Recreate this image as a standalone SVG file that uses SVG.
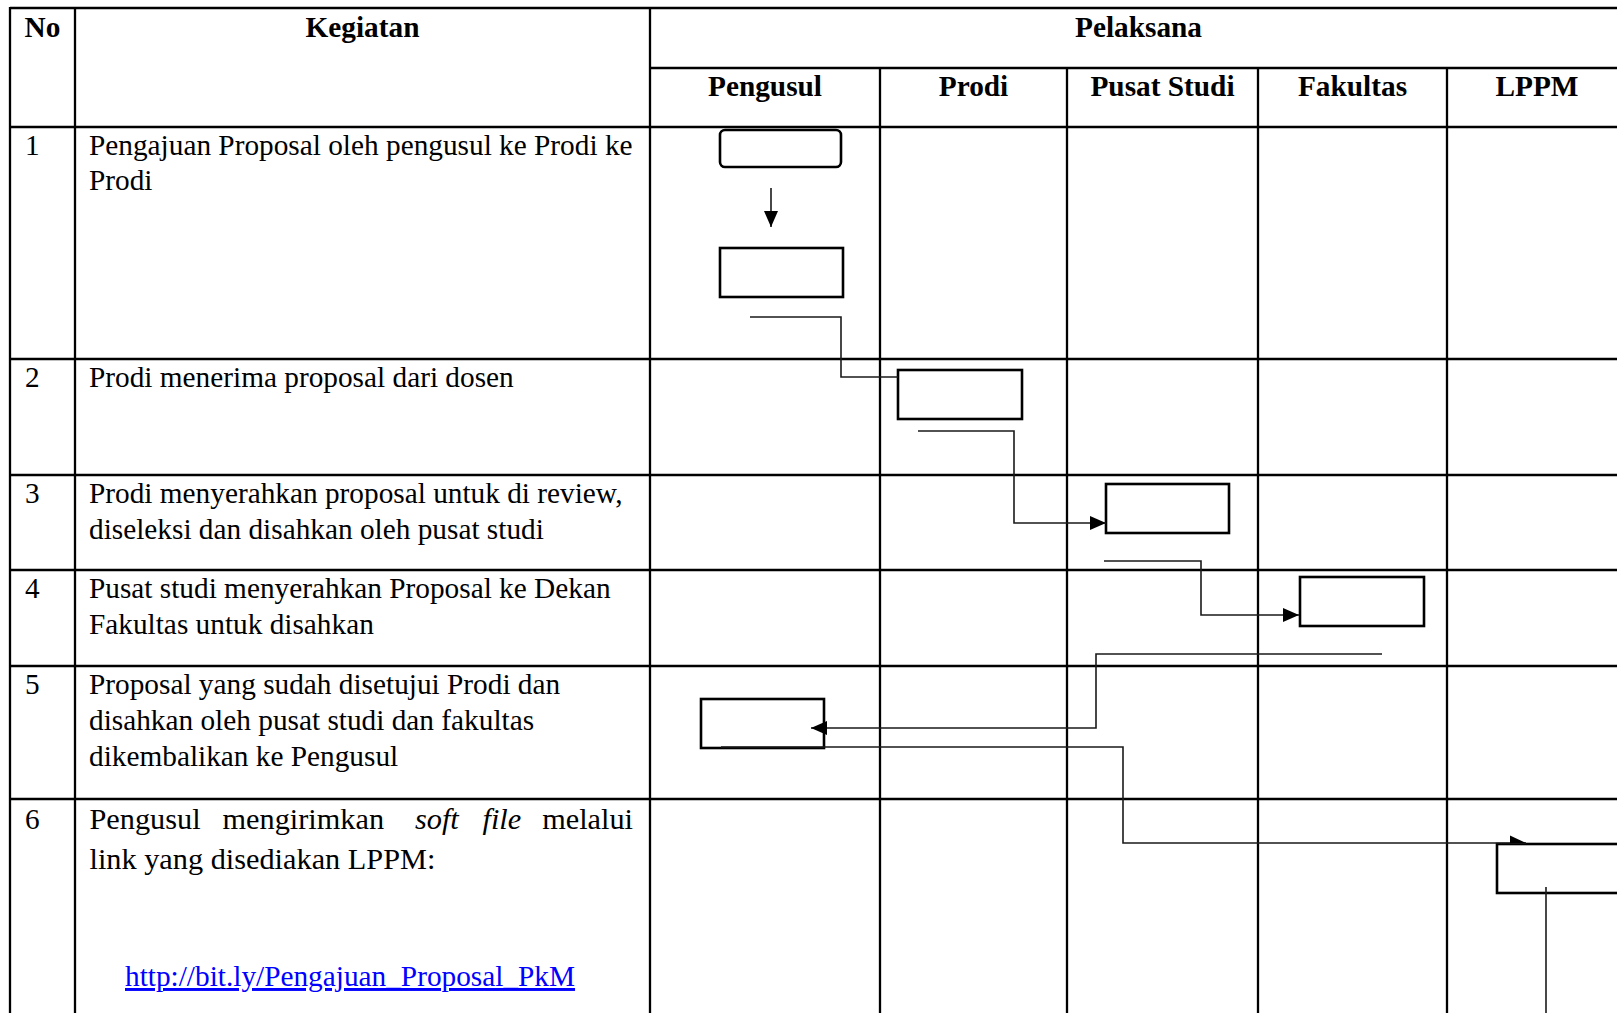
<svg xmlns="http://www.w3.org/2000/svg" width="1617" height="1013" viewBox="0 0 1617 1013">
<style>
.bg{fill:#ffffff}
.grid{stroke:#000;stroke-width:2.3;fill:none}
.box{fill:#fff;stroke:#000;stroke-width:2.6}
.con{fill:none;stroke:#1a1a1a;stroke-width:1.6}
.t{font-family:"Liberation Serif","Times New Roman",serif;font-size:29.3px;fill:#000}
.t6{font-family:"Liberation Serif","Times New Roman",serif;font-size:30.3px;fill:#000}
.h{font-family:"Liberation Serif","Times New Roman",serif;font-size:29.3px;font-weight:bold;fill:#000;text-anchor:middle}
.link{font-family:"Liberation Serif","Times New Roman",serif;font-size:29.3px;fill:#0000ff;text-decoration:underline}
</style>
<defs>
<marker id="arrow" markerUnits="userSpaceOnUse" markerWidth="16" markerHeight="16" viewBox="0 0 16 16" refX="16" refY="8" orient="auto">
<path d="M0,1 L16,8 L0,15 z" fill="#000"/>
</marker>
<marker id="arrowHalf" markerUnits="userSpaceOnUse" markerWidth="16" markerHeight="16" viewBox="0 0 16 16" refX="16" refY="8" orient="auto">
<path d="M0,0.5 L16,8 L0,8 z" fill="#000"/>
</marker>
</defs>
<rect class="bg" x="0" y="0" width="1617" height="1013"/>

<g id="table">
<line class="grid" x1="10" y1="8" x2="1630" y2="8"/>
<line class="grid" x1="650" y1="68" x2="1630" y2="68"/>
<line class="grid" x1="10" y1="127" x2="1630" y2="127"/>
<line class="grid" x1="10" y1="359" x2="1630" y2="359"/>
<line class="grid" x1="10" y1="475" x2="1630" y2="475"/>
<line class="grid" x1="10" y1="570" x2="1630" y2="570"/>
<line class="grid" x1="10" y1="666" x2="1630" y2="666"/>
<line class="grid" x1="10" y1="799" x2="1630" y2="799"/>
<line class="grid" x1="10" y1="7" x2="10" y2="1020"/>
<line class="grid" x1="75" y1="7" x2="75" y2="1020"/>
<line class="grid" x1="650" y1="7" x2="650" y2="1020"/>
<line class="grid" x1="880" y1="68" x2="880" y2="1020"/>
<line class="grid" x1="1067" y1="68" x2="1067" y2="1020"/>
<line class="grid" x1="1258" y1="68" x2="1258" y2="1020"/>
<line class="grid" x1="1447" y1="68" x2="1447" y2="1020"/>
</g>

<g id="headers">
<text class="h" x="42.5" y="36.5">No</text>
<text class="h" x="362.5" y="36.5">Kegiatan</text>
<text class="h" x="1138.5" y="36.5">Pelaksana</text>
<text class="h" x="765" y="96">Pengusul</text>
<text class="h" x="973.5" y="96">Prodi</text>
<text class="h" x="1162.5" y="96">Pusat Studi</text>
<text class="h" x="1352.5" y="96">Fakultas</text>
<text class="h" x="1537" y="96">LPPM</text>
</g>

<g id="row1">
<text class="t" x="25" y="155">1</text>
<text class="t" x="89" y="155">Pengajuan Proposal oleh pengusul ke Prodi ke</text>
<text class="t" x="89" y="190">Prodi</text>
</g>
<g id="row2">
<text class="t" x="25" y="387">2</text>
<text class="t" x="89" y="387">Prodi menerima proposal dari dosen</text>
</g>
<g id="row3">
<text class="t" x="25" y="503">3</text>
<text class="t" x="89" y="503">Prodi menyerahkan proposal untuk di review,</text>
<text class="t" x="89" y="539">diseleksi dan disahkan oleh pusat studi</text>
</g>
<g id="row4">
<text class="t" x="25" y="598">4</text>
<text class="t" x="89" y="598">Pusat studi menyerahkan Proposal ke Dekan</text>
<text class="t" x="89" y="634">Fakultas untuk disahkan</text>
</g>
<g id="row5">
<text class="t" x="25" y="694">5</text>
<text class="t" x="89" y="694">Proposal yang sudah disetujui Prodi dan</text>
<text class="t" x="89" y="730">disahkan oleh pusat studi dan fakultas</text>
<text class="t" x="89" y="766">dikembalikan ke Pengusul</text>
</g>
<g id="row6">
<text class="t" x="25" y="829">6</text>
<text class="t6" y="829"><tspan x="89.5">Pengusul</tspan><tspan x="222.5">mengirimkan</tspan><tspan x="415" font-style="italic">soft</tspan><tspan x="482.5" font-style="italic">file</tspan></text>
<text class="t6" x="633" y="829" text-anchor="end">melalui</text>
<text class="t6" x="89.5" y="869">link yang disediakan LPPM:</text>
<text class="link" x="125" y="986">http://bit.ly/Pengajuan_Proposal_PkM</text>
</g>

<g id="node-start"><rect class="box" x="720" y="130" width="121" height="37" rx="5"/></g>
<g id="node-pengusul-1"><rect class="box" x="720" y="248" width="123" height="49"/></g>
<g id="node-prodi"><rect class="box" x="898" y="370" width="124" height="49"/></g>
<g id="node-pusat-studi"><rect class="box" x="1106" y="484" width="123" height="49"/></g>
<g id="node-fakultas"><rect class="box" x="1300" y="577" width="124" height="49"/></g>
<g id="node-pengusul-5"><rect class="box" x="701" y="699" width="123" height="49"/></g>
<g id="node-lppm"><rect class="box" x="1497" y="844" width="125" height="49"/></g>

<g id="connectors">
<line class="con" x1="771" y1="188" x2="771" y2="227" stroke-width="1.8" marker-end="url(#arrow)"/>
<polyline class="con" points="750,317 841,317 841,377 898,377"/>
<polyline class="con" points="918,431 1014,431 1014,523 1106,523" marker-end="url(#arrow)"/>
<polyline class="con" points="1104,561 1201,561 1201,615 1299,615" marker-end="url(#arrow)"/>
<polyline class="con" points="1382,654 1096,654 1096,728 811,728" marker-end="url(#arrow)"/>
<polyline class="con" points="721,747 1123,747 1123,843 1526,843" marker-end="url(#arrowHalf)"/>
<line class="con" x1="1546" y1="887" x2="1546" y2="1020"/>
</g>
</svg>
